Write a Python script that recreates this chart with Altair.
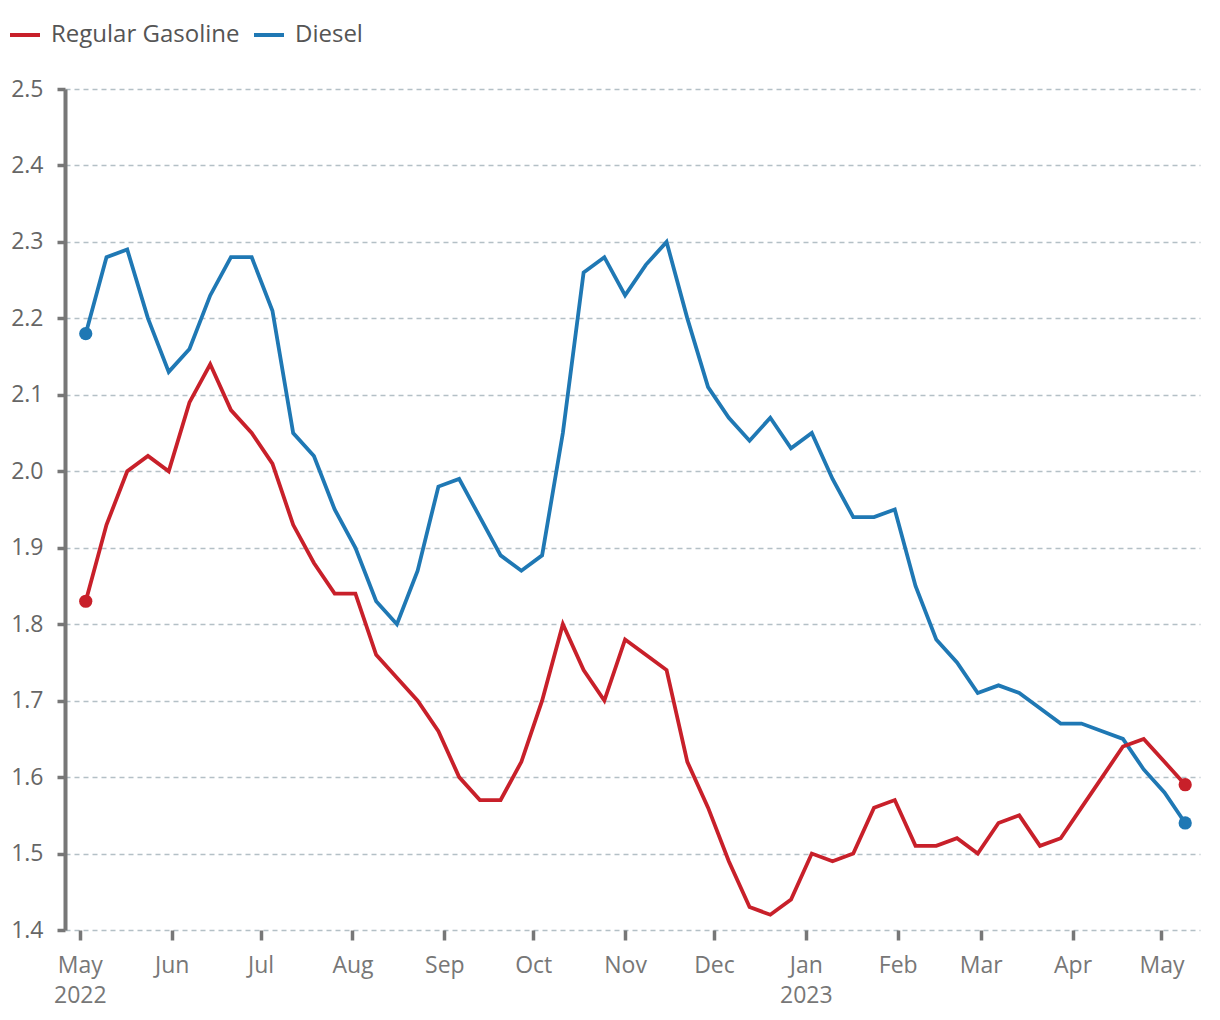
import altair as alt
import pandas as pd

FONT = "Open Sans"

# Weekly retail prices, first week 2022-05-03
start_date = "2022-05-03"
gasoline = [1.83, 1.93, 2.00, 2.02, 2.00, 2.09, 2.14, 2.08, 2.05, 2.01,
            1.93, 1.88, 1.84, 1.84, 1.76, 1.73, 1.70, 1.66, 1.60, 1.57,
            1.57, 1.62, 1.70, 1.80, 1.74, 1.70, 1.78, 1.76, 1.74, 1.62,
            1.56, 1.49, 1.43, 1.42, 1.44, 1.50, 1.49, 1.50, 1.56, 1.57,
            1.51, 1.51, 1.52, 1.50, 1.54, 1.55, 1.51, 1.52, 1.56, 1.60,
            1.64, 1.65, 1.62, 1.59]
diesel = [2.18, 2.28, 2.29, 2.20, 2.13, 2.16, 2.23, 2.28, 2.28, 2.21,
          2.05, 2.02, 1.95, 1.90, 1.83, 1.80, 1.87, 1.98, 1.99, 1.94,
          1.89, 1.87, 1.89, 2.05, 2.26, 2.28, 2.23, 2.27, 2.30, 2.20,
          2.11, 2.07, 2.04, 2.07, 2.03, 2.05, 1.99, 1.94, 1.94, 1.95,
          1.85, 1.78, 1.75, 1.71, 1.72, 1.71, 1.69, 1.67, 1.67, 1.66,
          1.65, 1.61, 1.58, 1.54]
series_names = ["Regular Gasoline", "Diesel"]
series_colors = ["#c8202a", "#1f78b4"]
y_ticks = [1.4, 1.5, 1.6, 1.7, 1.8, 1.9, 2.0, 2.1, 2.2, 2.3, 2.4, 2.5]
month_ticks = [(2022, 5), (2022, 6), (2022, 7), (2022, 8), (2022, 9), (2022, 10),
               (2022, 11), (2022, 12), (2023, 1), (2023, 2), (2023, 3), (2023, 4), (2023, 5)]

dates = list(pd.date_range(start_date, periods=len(gasoline), freq="7D"))
df = pd.DataFrame({
    "date": dates + dates,
    "series": [series_names[0]] * len(gasoline) + [series_names[1]] * len(diesel),
    "price": gasoline + diesel,
})
ends = df[df["date"].isin([dates[0], dates[-1]])]

color = alt.Color(
    "series:N",
    scale=alt.Scale(domain=series_names, range=series_colors),
    legend=alt.Legend(
        title=None, orient="none", legendX=-57, legendY=-71, direction="horizontal",
        symbolType="stroke", symbolSize=900, symbolStrokeWidth=4,
        labelFontSize=24, labelColor="#555", labelFont=FONT, labelLimit=0,
        columnPadding=6, labelOffset=9,
    ),
)

x = alt.X(
    "date:T",
    scale=alt.Scale(domain=[alt.DateTime(year=2022, month=4, date=26),
                            alt.DateTime(year=2023, month=5, date=14)]),
    axis=alt.Axis(
        values=[alt.DateTime(year=yy, month=mm, date=1) for yy, mm in month_ticks],
        labelExpr="(month(datum.value)==0 || (year(datum.value)==2022 && month(datum.value)==4)) ? [timeFormat(datum.value,'%b'), timeFormat(datum.value,'%Y')] : timeFormat(datum.value,'%b')",
        domain=False, grid=False, tickSize=10, tickWidth=3.5, tickColor="#777",
        labelFontSize=23, labelColor="#777", labelFont=FONT, labelPadding=14,
        labelLineHeight=30, title=None,
    ),
)
y = alt.Y(
    "price:Q",
    scale=alt.Scale(domain=[1.4, 2.5], nice=False, zero=False),
    axis=alt.Axis(
        values=y_ticks, format=".1f", domain=True, domainColor="#777", domainWidth=4,
        tickSize=8, tickWidth=3.5, tickColor="#777",
        grid=True, gridColor="#b4c0c6", gridDash=[5, 4], gridWidth=1.5,
        labelFontSize=23, labelColor="#666", labelFont=FONT, labelPadding=14,
        title=None,
    ),
)

base = alt.Chart(df)
diesel_line = base.transform_filter(alt.datum.series == series_names[1]).mark_line(strokeWidth=3.8).encode(x=x, y=y, color=color)
gas_line = base.transform_filter(alt.datum.series == series_names[0]).mark_line(strokeWidth=3.8).encode(x=x, y=y, color=color)
points = alt.Chart(ends).mark_circle(size=175, opacity=1).encode(x=x, y=y, color=color)

chart = (
    alt.layer(diesel_line, gas_line, points)
    .properties(width=1135, height=841, autosize=alt.AutoSizeParams(type="none"),
                padding={"left": 57, "top": 81, "right": 12, "bottom": 80})
    .configure_view(strokeWidth=0)
)

chart.save("out.html", embed_options={"renderer": "svg", "actions": False})
